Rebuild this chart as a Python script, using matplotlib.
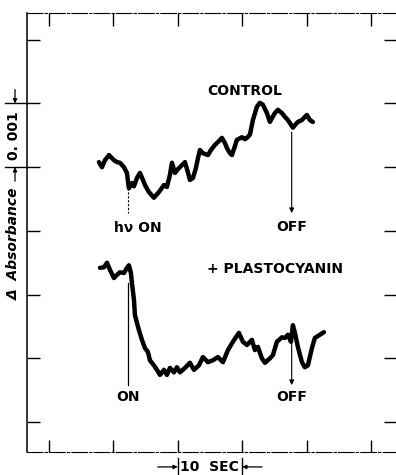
import matplotlib.pyplot as plt
import matplotlib.transforms as mtransforms

# === Trace data (time in s, delta absorbance in units of 0.001) ===
control_t = [7.76, 8.23, 8.70, 9.32, 10.09, 10.56, 11.02, 11.65, 12.11, 12.42,
             12.89, 13.20, 13.66, 14.13, 14.60, 14.91, 15.53, 16.30, 17.08, 17.86,
             18.32, 18.79, 19.10, 19.57, 20.03, 20.34, 21.12, 21.58, 21.89, 22.36,
             22.83, 23.14, 23.45, 23.91, 24.69, 25.16, 25.78, 26.40, 26.86, 27.33,
             27.64, 28.11, 28.42, 28.88, 29.19, 29.97, 30.43, 30.75, 31.21, 31.68,
             32.30, 32.76, 33.23, 33.85, 34.32, 34.63, 35.09, 35.56, 36.18, 36.65,
             37.11, 37.89, 38.20, 38.66, 39.29, 39.75, 40.06, 40.53, 40.99]
control_v = [4.08, 4.00, 4.11, 4.19, 4.11, 4.08, 4.07, 4.00, 3.91, 3.67,
             3.75, 3.70, 3.83, 3.91, 3.80, 3.72, 3.61, 3.52, 3.61, 3.72,
             3.69, 3.88, 4.07, 3.91, 3.97, 4.00, 4.08, 3.92, 3.80, 3.83,
             3.99, 4.14, 4.27, 4.22, 4.19, 4.27, 4.35, 4.41, 4.46, 4.38,
             4.30, 4.22, 4.19, 4.33, 4.43, 4.47, 4.44, 4.46, 4.51, 4.74,
             4.95, 5.01, 4.98, 4.85, 4.71, 4.77, 4.85, 4.90, 4.85, 4.79,
             4.74, 4.62, 4.66, 4.71, 4.74, 4.79, 4.82, 4.74, 4.71]

plasto_t = [7.92, 8.54, 9.01, 9.47, 10.09, 10.56, 11.02, 11.65, 12.11, 12.42,
            12.73, 12.89, 13.20, 13.35, 13.98, 14.44, 14.91, 15.37, 15.68, 16.30,
            16.77, 17.24, 17.86, 18.32, 18.79, 19.41, 19.88, 20.34, 21.12, 21.89,
            22.52, 23.29, 23.91, 24.69, 25.47, 26.24, 27.02, 27.80, 28.57, 29.50,
            30.12, 30.75, 31.52, 31.99, 32.45, 33.07, 33.54, 34.32, 34.78, 35.40,
            36.18, 36.65, 37.11, 37.58, 37.89, 38.20, 38.66, 39.29, 39.75, 40.22,
            40.84, 41.30, 42.08, 42.70]
plasto_v = [2.42, 2.43, 2.50, 2.39, 2.26, 2.31, 2.35, 2.34, 2.42, 2.46,
            2.34, 2.18, 1.92, 1.68, 1.44, 1.29, 1.16, 1.10, 0.97, 0.89,
            0.82, 0.74, 0.82, 0.74, 0.85, 0.78, 0.86, 0.78, 0.85, 0.93,
            0.82, 0.89, 1.02, 0.94, 0.97, 1.02, 0.94, 1.13, 1.26, 1.40,
            1.26, 1.21, 1.29, 1.13, 1.18, 1.00, 0.93, 1.00, 1.05, 1.26,
            1.33, 1.32, 1.37, 1.26, 1.52, 1.40, 1.18, 0.94, 0.86, 0.89,
            1.16, 1.32, 1.37, 1.41]

x_ticks = [0, 10, 20, 30, 40, 50]
y_ticks = [0, 1, 2, 3, 4, 5, 6]

light_on = 12.27
light_off = 37.7

# === Figure ===
fig = plt.figure(figsize=(3.96, 4.75), dpi=100)
ax = fig.add_axes([27 / 396, 23 / 475, 369 / 396, 439 / 475])
ax.set_xlim(-3.41, 53.9)
ax.set_ylim(-0.47, 6.42)

ax.plot(control_t, control_v, color="black", linewidth=3.2,
        solid_joinstyle="round", solid_capstyle="round")
ax.plot(plasto_t, plasto_v, color="black", linewidth=3.2,
        solid_joinstyle="round", solid_capstyle="round")

# === Frame and ticks ===
ax.spines["right"].set_visible(False)
ax.spines["left"].set_linewidth(1.1)
ax.spines["top"].set_linewidth(0.8)
ax.spines["bottom"].set_linewidth(0.8)
ax.spines["top"].set_linestyle((0, (14, 2, 2, 2)))
ax.spines["bottom"].set_linestyle((0, (14, 2, 2, 2)))
ax.set_xticks(x_ticks)
ax.set_yticks(y_ticks)
ax.tick_params(direction="in", length=9, width=1.0, top=True, right=True,
               labelbottom=False, labelleft=False)

# === Annotations ===
txt = dict(fontsize=10, fontweight="bold", ha="center", va="center", family="DejaVu Sans")
ax.text(30.4, 5.20, "CONTROL", **txt)
ax.text(35.1, 2.40, "+ PLASTOCYANIN", **txt)
ax.text(13.8, 3.05, "hν ON", **txt)
ax.text(light_off, 3.06, "OFF", **txt)
ax.text(light_on, 0.39, "ON", **txt)
ax.text(light_off, 0.39, "OFF", **txt)

ax.plot([light_on, light_on], [3.67, 3.28], color="black", linewidth=0.8,
        linestyle=(0, (2, 1.5)))
ax.plot([light_on, light_on], [2.18, 0.58], color="black", linewidth=0.9)
arrow = dict(arrowstyle="-|>", color="black", lw=0.8, mutation_scale=7,
             shrinkA=0, shrinkB=0)
ax.annotate("", xy=(light_off, 3.28), xytext=(light_off, 4.55), arrowprops=arrow)
ax.annotate("", xy=(light_off, 0.58), xytext=(light_off, 1.32), arrowprops=arrow)

# === Scale bars ===
bx = mtransforms.blended_transform_factory(ax.transData, ax.transAxes)
by = mtransforms.blended_transform_factory(ax.transAxes, ax.transData)
bar_arrow = dict(arrowstyle="-|>", color="black", lw=0.9, mutation_scale=6,
                 shrinkA=0, shrinkB=0)

# time bar (10 s)
for xv in (20, 30):
    ax.plot([xv, xv], [-0.014, -0.052], transform=bx, color="black",
            linewidth=1.0, clip_on=False)
ax.annotate("", xy=(20, -0.034), xytext=(16.9, -0.034), xycoords=bx,
            textcoords=bx, arrowprops=bar_arrow, annotation_clip=False)
ax.annotate("", xy=(30, -0.034), xytext=(33.1, -0.034), xycoords=bx,
            textcoords=bx, arrowprops=bar_arrow, annotation_clip=False)
ax.text(25, -0.035, "10  SEC", transform=bx, fontsize=10, fontweight="bold",
        ha="center", va="center")

# absorbance bar (0.001)
for yv in (5, 4):
    ax.plot([-0.06, 0.0], [yv, yv], transform=by, color="black",
            linewidth=1.0, clip_on=False)
ax.annotate("", xy=(-0.0325, 5), xytext=(-0.0325, 5.22), xycoords=by,
            textcoords=by, arrowprops=bar_arrow, annotation_clip=False)
ax.annotate("", xy=(-0.0325, 4), xytext=(-0.0325, 3.78), xycoords=by,
            textcoords=by, arrowprops=bar_arrow, annotation_clip=False)
ax.text(-0.035, 4.5, "0. 001", transform=by, rotation=90, fontsize=10,
        fontweight="bold", ha="center", va="center")
ax.text(-0.035, 2.8, "Δ  Absorbance", transform=by, rotation=90, fontsize=10,
        fontweight="bold", fontstyle="italic", ha="center", va="center")

fig.savefig("out.png", dpi=100)
